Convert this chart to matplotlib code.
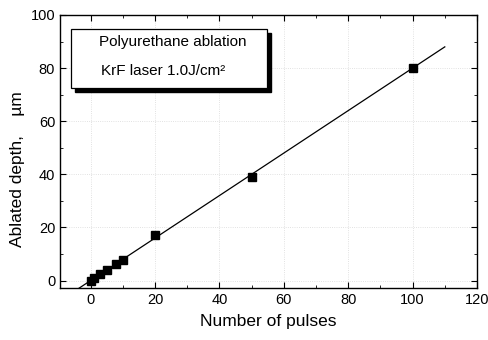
import numpy as np
import matplotlib.pyplot as plt
from matplotlib.patches import Rectangle

plt.rcParams['font.family'] = ['Liberation Sans', 'DejaVu Sans']

# measured points
pulses = [0, 1, 3, 5, 8, 10, 20, 50, 100]
depth = [0.0, 0.8, 2.6, 4.0, 6.2, 7.9, 17.0, 39.0, 80.0]

# linear fit drawn in the original
fit_slope = 0.80
fit_intercept = 0.0
fit_range = [-4, 110]

fig = plt.figure(figsize=(4.88, 3.4), dpi=100)
ax = fig.add_axes([60 / 488, 1 - 288 / 340, 417 / 488, 273 / 340])

fx = np.array(fit_range)
ax.plot(fx, fit_slope * fx + fit_intercept, color='black', lw=0.9, zorder=2)
ax.plot(pulses, depth, 's', color='black', ms=5.5, zorder=3)

ax.set_xlim(-9.5, 120)
ax.set_ylim(-2.8, 100)
ax.set_xticks(np.arange(0, 121, 20))
ax.set_yticks(np.arange(0, 101, 20))
ax.set_xticks(np.arange(0, 121, 10), minor=True)
ax.set_yticks(np.arange(0, 101, 10), minor=True)
ax.tick_params(which='both', direction='in', top=True, right=True, labelsize=10.5)
ax.tick_params(which='major', length=4)
ax.tick_params(which='minor', length=2)
ax.grid(True, which='major', ls=':', color='#d8d8d8', lw=0.6)
for s in ax.spines.values():
    s.set_linewidth(1.0)

ax.set_xlabel('Number of pulses', fontsize=12.5, labelpad=5)
fig.text(18 / 488, 1 - 169 / 340, 'Ablated depth,    \u00b5m', rotation=90,
         fontsize=12.5, ha='center', va='center')

# label box with drop shadow
bx0, by0, bw, bh = 71 / 488, 1 - 88 / 340, 196 / 488, 59 / 340
fig.patches.append(Rectangle((bx0 + 4 / 488, by0 - 4 / 340), bw, bh,
                             transform=fig.transFigure, facecolor='black',
                             edgecolor='black', zorder=5))
fig.patches.append(Rectangle((bx0, by0), bw, bh, transform=fig.transFigure,
                             facecolor='white', edgecolor='black', lw=0.9, zorder=6))
fig.text(173 / 488, 1 - 42 / 340, 'Polyurethane ablation', fontsize=11,
         ha='center', va='center', zorder=7)
fig.text(163 / 488, 1 - 71 / 340, 'KrF laser 1.0J/cm\u00b2', fontsize=11,
         ha='center', va='center', zorder=7)

fig.savefig('out.png', dpi=100)
